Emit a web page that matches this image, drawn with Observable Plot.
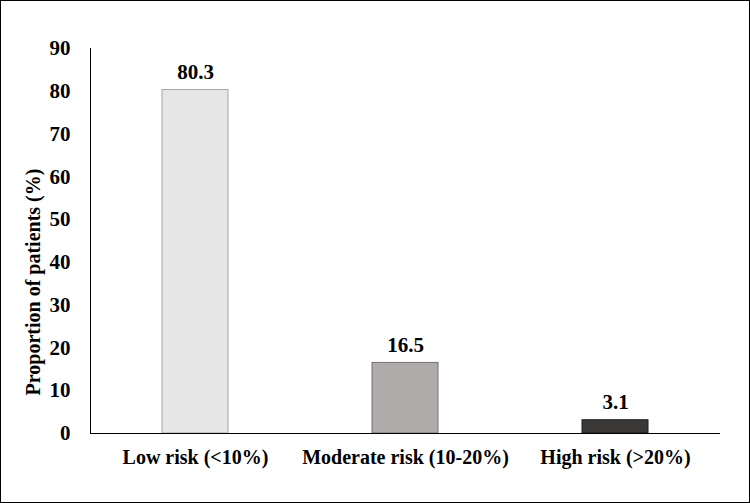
<!DOCTYPE html>
<html>
<head>
<meta charset="utf-8">
<script src="https://cdn.jsdelivr.net/npm/d3@7"></script>
<script src="https://cdn.jsdelivr.net/npm/@observablehq/plot@0.6"></script>
<style>
  html, body { margin: 0; padding: 0; background: #fff; }
  #frame { width: 748px; height: 501px; border: 1px solid #000; background: #fff; }
  #frame svg { display: block; font-family: "Liberation Serif", "Times New Roman", serif !important; }
  #frame svg text { font-family: "Liberation Serif", "Times New Roman", serif !important; font-weight: bold; }
</style>
</head>
<body>
<div id="frame"></div>
<script>
const categories = ["Low risk (<10%)", "Moderate risk (10-20%)", "High risk (>20%)"];
const values = [80.3, 16.5, 3.1];
const labels = ["80.3", "16.5", "3.1"];
const fills = ["#e6e6e6", "#afabab", "#3b3838"];
const strokes = ["#a6a6a6", "#767171", "#1e1e1e"];
const yTicks = [0, 10, 20, 30, 40, 50, 60, 70, 80, 90];

const data = categories.map((c, i) => ({cat: c, value: values[i], label: labels[i], fill: fills[i], stroke: strokes[i]}));

const chart = Plot.plot({
  width: 748,
  height: 501,
  marginLeft: 89,
  marginRight: 29,
  marginTop: 47,
  marginBottom: 69,
  style: {fontWeight: "bold", color: "#000", background: "#fff"},
  x: {domain: categories, paddingInner: 0.686, paddingOuter: 0.343, label: null},
  y: {domain: [0, 90], ticks: yTicks, label: null},
  marks: [
    Plot.barY(data, {x: "cat", y: "value", fill: "fill", stroke: "stroke", strokeWidth: 1}),
    Plot.text(data, {x: "cat", y: "value", text: "label", lineAnchor: "bottom", dy: -11, fontSize: 21, fontWeight: "bold", fill: "#000"}),
    Plot.axisY({ticks: yTicks, tickSize: 0, tickPadding: 20, fontSize: 21, fontWeight: "bold", label: null}),
    Plot.axisX({tickSize: 0, tickPadding: 16, fontSize: 20, fontWeight: "bold", label: null}),
    Plot.frame({anchor: "left", stroke: "#000", strokeWidth: 1}),
    Plot.ruleY([0], {stroke: "#000", strokeWidth: 1}),
    Plot.text(["Proportion of patients (%)"], {frameAnchor: "left", textAnchor: "middle", dx: -57, dy: 41, rotate: -90, fontSize: 20, fontWeight: "bold", fill: "#000"})
  ]
});
document.getElementById("frame").appendChild(chart);
</script>
</body>
</html>
